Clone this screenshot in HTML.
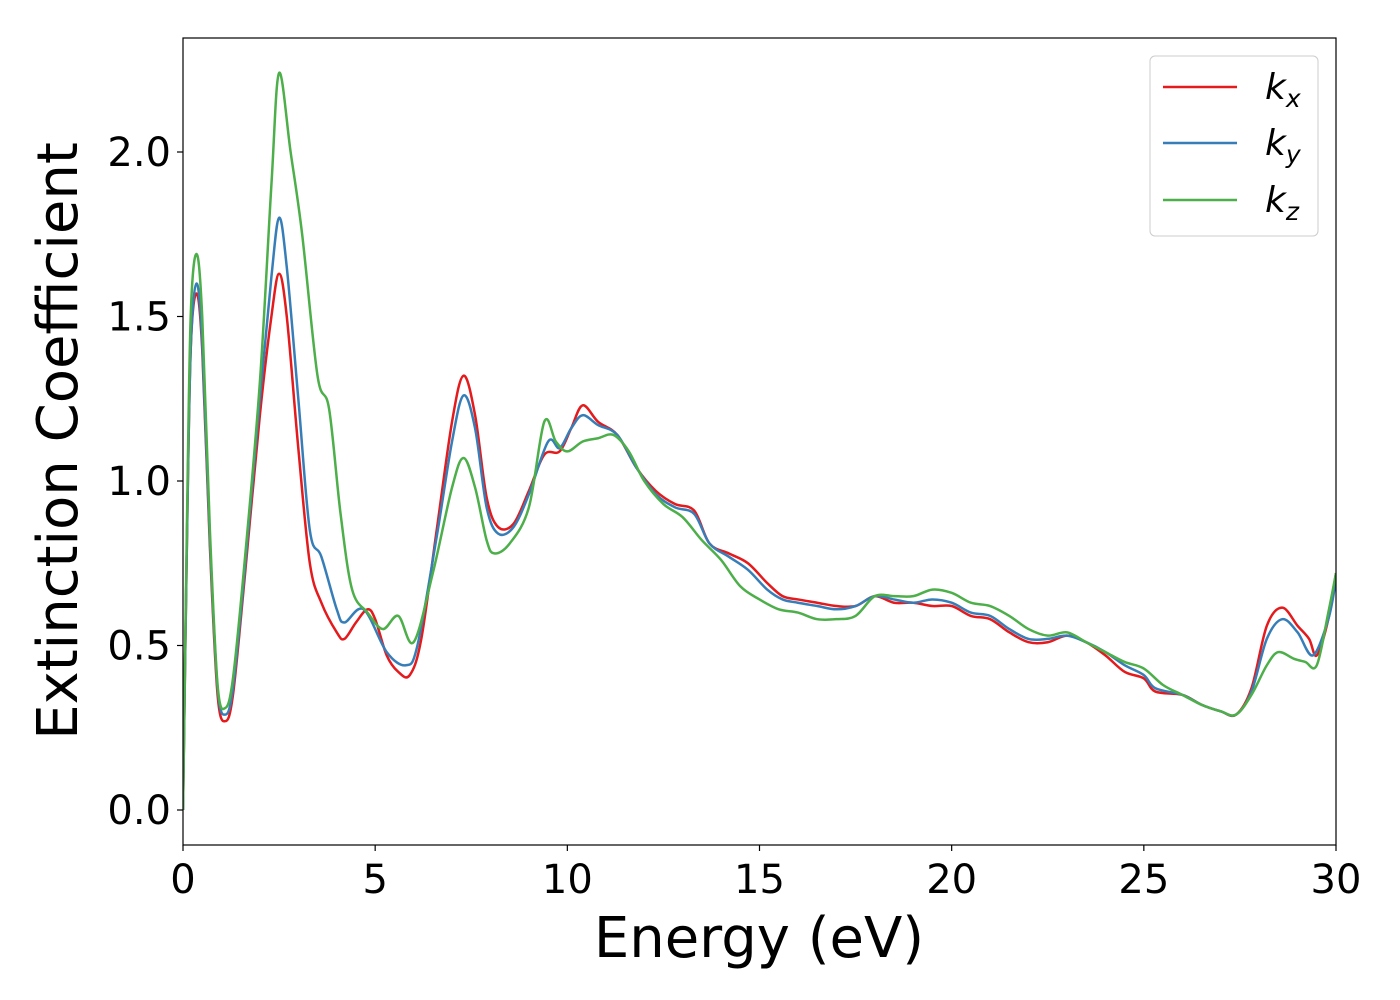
<!DOCTYPE html>
<html><head><meta charset="utf-8"><style>body{margin:0;background:#fff}svg{display:block;font-family:"DejaVu Sans","Liberation Sans",sans-serif}</style></head>
<body>
<svg id="chart" width="1400" height="1000" viewBox="0 0 1400 1000">
<rect x="0" y="0" width="1400" height="1000" fill="#fff"/>
<g id="plot"></g>
<g id="axes"></g>
</svg>
<script>
const xTicks=[0,5,10,15,20,25,30];
const yTicks=[0.0,0.5,1.0,1.5,2.0];
const seriesNames=["k_x","k_y","k_z"];
const kxE=[0,0.1,0.2,0.35,0.5,0.7,0.9,1.1,1.3,1.6,2.0,2.3,2.5,2.7,3.0,3.3,3.6,4.0,4.2,4.5,4.8,5.0,5.3,5.6,5.9,6.2,6.6,7.0,7.3,7.6,7.9,8.2,8.6,9.0,9.4,9.8,10.1,10.4,10.8,11.3,11.8,12.3,12.8,13.3,13.7,14.2,14.7,15.2,15.6,16,16.5,17,17.5,18,18.5,19,19.5,20,20.5,21,21.5,22,22.5,23,23.5,24,24.5,25,25.3,26,26.5,27,27.4,27.8,28.2,28.6,29,29.3,29.5,29.8,30];
const kxV=[0,0.8,1.4,1.57,1.4,0.8,0.35,0.27,0.35,0.7,1.2,1.5,1.63,1.5,1.1,0.75,0.63,0.54,0.52,0.57,0.61,0.58,0.47,0.42,0.41,0.52,0.85,1.18,1.32,1.2,0.95,0.86,0.87,0.97,1.08,1.09,1.16,1.23,1.18,1.14,1.04,0.97,0.93,0.91,0.81,0.78,0.75,0.69,0.65,0.64,0.63,0.62,0.62,0.65,0.63,0.63,0.62,0.62,0.59,0.58,0.54,0.51,0.51,0.53,0.51,0.47,0.42,0.40,0.36,0.35,0.32,0.30,0.29,0.37,0.56,0.615,0.56,0.52,0.47,0.58,0.72];
const kyE=[0,0.1,0.2,0.35,0.5,0.7,0.9,1.1,1.3,1.6,2.0,2.3,2.5,2.7,3.0,3.3,3.6,4.0,4.2,4.7,5.3,5.8,6.1,6.6,7.0,7.3,7.6,7.9,8.2,8.6,9.0,9.5,9.8,10.1,10.4,10.8,11.3,11.8,12.3,12.8,13.3,13.7,14.2,14.7,15.2,15.6,16,16.5,17,17.5,18,18.5,19,19.5,20,20.5,21,21.5,22,22.5,23,23.5,24,24.5,25,25.3,26,26.5,27,27.4,27.8,28.2,28.6,29,29.4,29.8,30];
const kyV=[0,0.8,1.4,1.60,1.42,0.82,0.37,0.29,0.37,0.72,1.25,1.62,1.80,1.65,1.25,0.85,0.77,0.61,0.57,0.61,0.48,0.44,0.5,0.83,1.12,1.26,1.16,0.92,0.84,0.86,0.96,1.12,1.10,1.16,1.20,1.17,1.14,1.04,0.96,0.92,0.90,0.81,0.77,0.73,0.67,0.64,0.63,0.62,0.61,0.62,0.65,0.64,0.63,0.64,0.63,0.60,0.59,0.55,0.52,0.52,0.53,0.51,0.48,0.44,0.41,0.37,0.35,0.32,0.30,0.29,0.36,0.52,0.58,0.54,0.47,0.58,0.70];
const kzE=[0,0.1,0.2,0.35,0.5,0.7,0.9,1.1,1.3,1.6,2.0,2.3,2.5,2.8,3.1,3.5,3.8,4.1,4.4,4.8,5.2,5.6,6.0,6.5,7.0,7.3,7.6,7.9,8.1,8.5,9.0,9.4,9.7,10.0,10.4,10.8,11.2,11.6,12,12.5,13,13.5,14,14.5,15,15.5,16,16.5,17,17.5,18,18.5,19,19.5,20,20.5,21,21.5,22,22.5,23,23.5,24,24.5,25,25.5,26,26.5,27,27.4,27.8,28.2,28.5,28.9,29.2,29.5,29.8,30];
const kzV=[0,0.85,1.5,1.69,1.5,0.85,0.38,0.31,0.4,0.75,1.3,1.9,2.24,2.0,1.75,1.32,1.22,0.9,0.67,0.60,0.55,0.59,0.51,0.72,0.98,1.07,0.98,0.82,0.78,0.81,0.92,1.18,1.12,1.09,1.12,1.13,1.14,1.09,1.0,0.93,0.89,0.82,0.76,0.68,0.64,0.61,0.60,0.58,0.58,0.59,0.65,0.65,0.65,0.67,0.66,0.63,0.62,0.59,0.55,0.53,0.54,0.51,0.48,0.45,0.43,0.38,0.35,0.32,0.30,0.29,0.35,0.44,0.48,0.46,0.45,0.44,0.6,0.72];
const colors=["#e41a1c","#377eb8","#4daf4a"];
const X0=183,X1=1336,Y0=38,Y1=845;
const xs=v=>X0+(v/30)*(X1-X0);
const ys=v=>810-v*329;
const NS="http://www.w3.org/2000/svg";
function mk(t,a,p){const e=document.createElementNS(NS,t);for(const k in a)e.setAttribute(k,a[k]);p.appendChild(e);return e;}
const plot=document.getElementById('plot'),axes=document.getElementById('axes');
mk('clipPath',{id:'cp'},plot);mk('rect',{x:X0,y:Y0,width:X1-X0,height:Y1-Y0},document.getElementById('cp'));
function smooth(E,V){const p=E.map((e,i)=>[xs(e),ys(V[i])]);let d=`M${p[0][0]},${p[0][1]}`;
for(let i=0;i<p.length-1;i++){const a=p[Math.max(0,i-1)],b=p[i],c=p[i+1],n=p[Math.min(p.length-1,i+2)];
const t=6;d+=`C${b[0]+(c[0]-a[0])/t},${b[1]+(c[1]-a[1])/t} ${c[0]-(n[0]-b[0])/t},${c[1]-(n[1]-b[1])/t} ${c[0]},${c[1]}`;}return d;}
const data=[[kxE,kxV],[kyE,kyV],[kzE,kzV]];
const g=mk('g',{'clip-path':'url(#cp)'},plot);
data.forEach((s,i)=>{const l=mk('path',{d:smooth(s[0],s[1]),fill:'none',stroke:colors[i],'stroke-width':2.5},g);

});
mk('rect',{x:X0,y:Y0,width:X1-X0,height:Y1-Y0,fill:'none',stroke:'#000','stroke-width':1.2},axes);
xTicks.forEach(t=>{mk('line',{x1:xs(t),x2:xs(t),y1:Y1,y2:Y1+6,stroke:'#000','stroke-width':1.2},axes);
const tx=mk('text',{x:xs(t),y:Y1+48,'font-size':40,'text-anchor':'middle'},axes);tx.textContent=t;

});
yTicks.forEach(t=>{mk('line',{x1:X0-6,x2:X0,y1:ys(t),y2:ys(t),stroke:'#000','stroke-width':1.2},axes);
const tx=mk('text',{x:X0-12,y:ys(t)+14,'font-size':40,'text-anchor':'end'},axes);tx.textContent=t.toFixed(1);

});
</script>
<svg style="position:absolute;left:0;top:0" width="1400" height="1000">
<text x="759" y="957" font-size="56" text-anchor="middle" font-family="DejaVu Sans,Liberation Sans,sans-serif">Energy (eV)</text>
<text transform="translate(77,441) rotate(-90)" font-size="56" text-anchor="middle" font-family="DejaVu Sans,Liberation Sans,sans-serif">Extinction Coefficient</text>
<g font-family="DejaVu Sans,Liberation Sans,sans-serif" font-size="36" font-style="italic">
<rect x="1150" y="56" width="168" height="180" rx="5" fill="#fff" fill-opacity="0.8" stroke="#ccc"/>
<line x1="1163" x2="1237" y1="87" y2="87" stroke="#e41a1c" stroke-width="2.5"/>
<text x="1265" y="99">k<tspan font-size="25" dy="8">x</tspan></text>
<line x1="1163" x2="1237" y1="143" y2="143" stroke="#377eb8" stroke-width="2.5"/>
<text x="1265" y="155">k<tspan font-size="25" dy="8">y</tspan></text>
<line x1="1163" x2="1237" y1="200" y2="200" stroke="#4daf4a" stroke-width="2.5"/>
<text x="1265" y="212">k<tspan font-size="25" dy="8">z</tspan></text>
</g>
</svg>
</body></html>
